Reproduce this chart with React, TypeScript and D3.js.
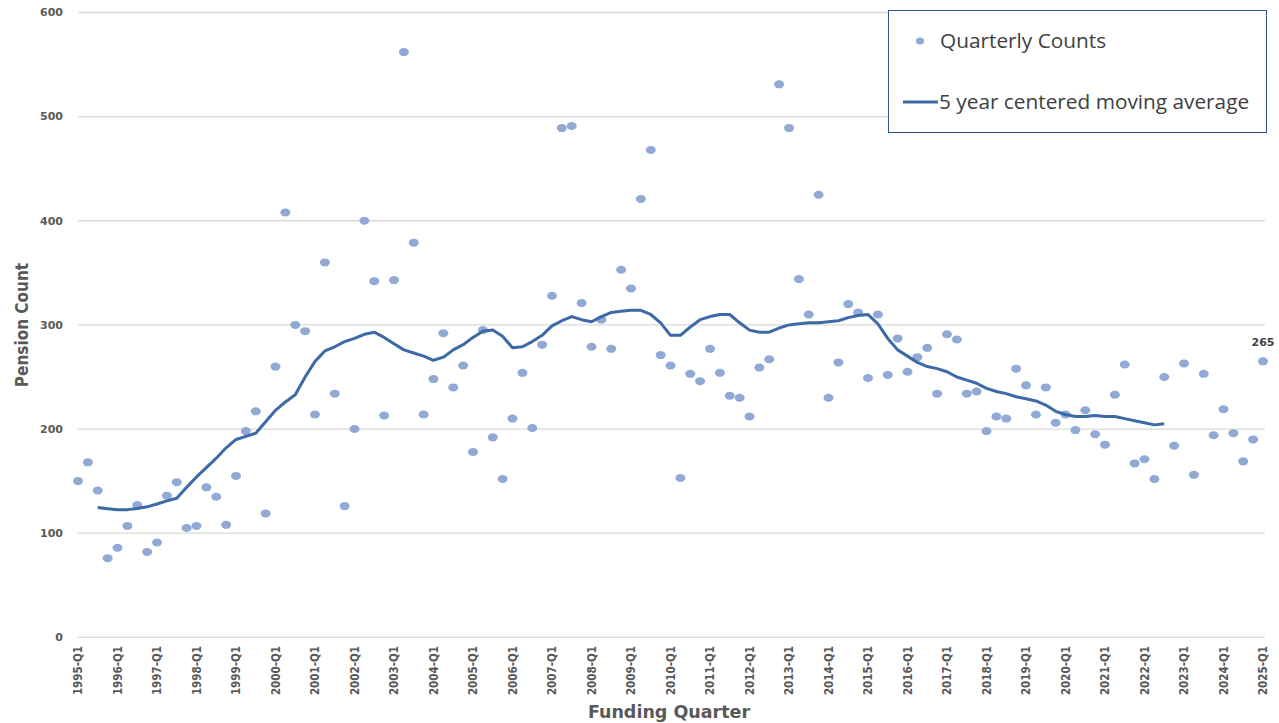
import React from "react";
import * as d3 from "d3";

// quarterly pension counts, 1995-Q1 .. 2025-Q1
const counts = [
  150, 168, 141, 76, 86, 107, 127, 82, 91, 136,
  149, 105, 107, 144, 135, 108, 155, 198, 217, 119,
  260, 408, 300, 294, 214, 360, 234, 126, 200, 400,
  342, 213, 343, 562, 379, 214, 248, 292, 240, 261,
  178, 295, 192, 152, 210, 254, 201, 281, 328, 489,
  491, 321, 279, 305, 277, 353, 335, 421, 468, 271,
  261, 153, 253, 246, 277, 254, 232, 230, 212, 259,
  267, 531, 489, 344, 310, 425, 230, 264, 320, 312,
  249, 310, 252, 287, 255, 269, 278, 234, 291, 286,
  234, 236, 198, 212, 210, 258, 242, 214, 240, 206,
  214, 199, 218, 195, 185, 233, 262, 167, 171, 152,
  250, 184, 263, 156, 253, 194, 219, 196, 169, 190,
  265,
];

// 5 year centered moving average, starts at 1995-Q3 and ends at 2022-Q3
const maStart = 2;
const movingAvg = [
  124.6, 123.4, 122.4, 122.6, 123.7, 125.3, 128, 131, 133.5, 144,
  154, 163, 172, 182, 190, 193, 196, 207, 218, 226,
  233, 250, 265, 275, 279, 284, 287, 291, 293, 288,
  282, 276, 273, 270, 266, 269, 276, 281, 288, 294,
  295, 289, 278, 279, 284, 290, 299, 304, 308, 305,
  303, 308, 312, 313, 314, 314, 310, 302, 290, 290,
  298, 305, 308, 310, 310, 302, 295, 293, 293, 297,
  300, 301, 302, 302, 303, 304, 307, 309, 310, 301,
  287, 276, 270, 264, 260, 258, 255, 250, 247, 244,
  239, 236, 234, 231, 229, 227, 223, 217, 214, 212,
  212, 213, 212, 212, 210, 208, 206, 204, 205,
];

const tickLabels = [
  "1995-Q1", "1996-Q1", "1997-Q1", "1998-Q1", "1999-Q1", "2000-Q1",
  "2001-Q1", "2002-Q1", "2003-Q1", "2004-Q1", "2005-Q1", "2006-Q1",
  "2007-Q1", "2008-Q1", "2009-Q1", "2010-Q1", "2011-Q1", "2012-Q1",
  "2013-Q1", "2014-Q1", "2015-Q1", "2016-Q1", "2017-Q1", "2018-Q1",
  "2019-Q1", "2020-Q1", "2021-Q1", "2022-Q1", "2023-Q1", "2024-Q1",
  "2025-Q1",
];

const yTicks = [0, 100, 200, 300, 400, 500, 600];

const quarters = counts.map((_, i) => `${1995 + Math.floor(i / 4)}-Q${(i % 4) + 1}`);

const W = 1279;
const H = 723;

export default function App() {
  const x = d3.scalePoint<string>().domain(quarters).range([78, 1263]);
  const y = d3.scaleLinear().domain([0, 600]).range([637.3, 12.5]);

  const maPoints = movingAvg.map((v, i) => ({ q: quarters[i + maStart], v }));
  const line = d3
    .line<{ q: string; v: number }>()
    .x((d) => x(d.q) as number)
    .y((d) => y(d.v));

  const lastQ = quarters[quarters.length - 1];
  const lastV = counts[counts.length - 1];

  return (
    <svg
      width={W}
      height={H}
      style={{ position: "absolute", left: 0, top: 0, background: "#fff" }}
    >
      {/* gridlines + y labels */}
      {yTicks.map((t) => (
        <g key={t}>
          <line x1={78} x2={1265} y1={y(t)} y2={y(t)} stroke="#d9d9d9" strokeWidth={1.3} />
          <text
            x={63}
            y={y(t)}
            dy="0.35em"
            textAnchor="end"
            fontFamily="DejaVu Sans"
            fontWeight="bold"
            fontSize={11}
            fill="#595959"
          >
            {t}
          </text>
        </g>
      ))}

      {/* x labels */}
      {tickLabels.map((t) => (
        <text
          key={t}
          transform={`translate(${x(t)},${646}) rotate(-90)`}
          dy="0.35em"
          textAnchor="end"
          fontFamily="'DejaVu Sans Condensed', 'DejaVu Sans'"
          fontWeight="bold"
          fontSize={11.5}
          fill="#595959"
        >
          {t}
        </text>
      ))}

      {/* scatter */}
      {counts.map((v, i) => (
        <ellipse key={i} cx={x(quarters[i])} cy={y(v)} rx={5} ry={4} fill="#90a9d5" />
      ))}

      {/* moving average */}
      <path d={line(maPoints) || ""} fill="none" stroke="#3c6aa6" strokeWidth={3} strokeLinejoin="round" />

      {/* data label */}
      <text
        x={x(lastQ)}
        y={y(lastV) - 15}
        textAnchor="middle"
        fontFamily="DejaVu Sans"
        fontWeight="bold"
        fontSize={11}
        fill="#404040"
      >
        {lastV}
      </text>

      {/* axis titles */}
      <text
        transform="translate(28,325) rotate(-90)"
        textAnchor="middle"
        fontFamily="'DejaVu Sans Condensed', 'DejaVu Sans'"
        fontWeight="bold"
        fontSize={17}
        fill="#595959"
      >
        Pension Count
      </text>
      <text
        x={669}
        y={718}
        textAnchor="middle"
        fontFamily="'DejaVu Sans'"
        fontWeight="bold"
        fontSize={17.5}
        fill="#595959"
      >
        Funding Quarter
      </text>

      {/* legend */}
      <g>
        <rect x={888.5} y={10.5} width={378} height={122} fill="#fff" stroke="#2f5597" strokeWidth={1} />
        <ellipse cx={920} cy={41} rx={4} ry={3.5} fill="#90a9d5" />
        <text x={940} y={41} dy="0.35em" fontFamily="'Open Sans'" fontSize={20.8} fill="#404040">
          Quarterly Counts
        </text>
        <line x1={903} x2={938} y1={102} y2={102} stroke="#3c6aa6" strokeWidth={3} />
        <text x={939} y={102} dy="0.35em" fontFamily="'Open Sans'" fontSize={20.8} fill="#404040">
          5 year centered moving average
        </text>
      </g>
    </svg>
  );
}
